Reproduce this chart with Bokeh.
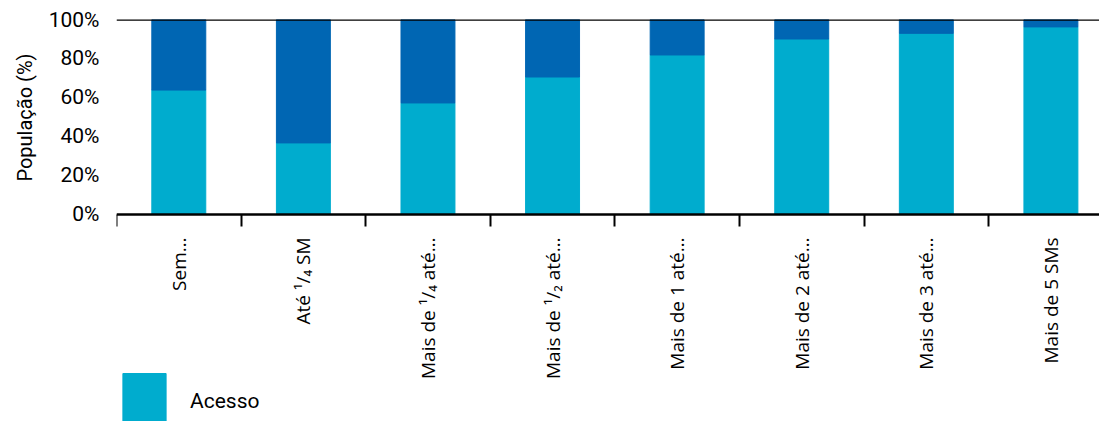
from bokeh.plotting import figure
from bokeh.models import (ColumnDataSource, Range1d, FixedTicker, Span, Legend,
                          LegendItem, Title)
from bokeh.embed import file_html
from bokeh.resources import INLINE
import math

# Income brackets (in minimum wages, SM)
categories = ["Sem…", "Até ¹/₄ SM", "Mais de ¹/₄ até…", "Mais de ¹/₂ até…",
              "Mais de 1 até…", "Mais de 2 até…", "Mais de 3 até…", "Mais de 5 SMs"]
# Share of the population (%)
acesso = [63.8, 36.7, 57.2, 70.5, 81.8, 90.0, 92.9, 96.2]
sem_acesso = [36.2, 63.3, 42.8, 29.5, 18.2, 10.0, 7.1, 3.8]
y_ticks = [0, 20, 40, 60, 80, 100]

LIGHT = "#00acce"
DARK = "#0066b3"

centers = [i + 0.5 for i in range(len(categories))]
bounds = [float(i) for i in range(len(categories) + 1)]

source = ColumnDataSource(dict(x=centers, acesso=acesso, sem_acesso=sem_acesso))

# The frame runs down to the bottom edge so that the category labels and the
# legend can sit below the zero line; 1.95 px per percentage point.
p = figure(width=1099, height=421, output_backend="svg", toolbar_location=None,
           x_range=Range1d(0, 7.89), y_range=Range1d(-106.2, 100),
           min_border_left=116, min_border_right=0, min_border_top=19,
           min_border_bottom=0)
p.outline_line_color = None
p.xgrid.visible = False
p.ygrid.visible = False

renderers = p.vbar_stack(["acesso", "sem_acesso"], x="x", width=0.433,
                         color=[LIGHT, DARK], source=source)

# line at 100%
p.add_layout(Span(location=100, dimension="width", line_color="black", line_width=2.5))

# x axis drawn at y = 0: labels at centers, tick marks at boundaries
xa = p.xaxis[0]
xa.fixed_location = 0
xa.ticker = FixedTicker(ticks=centers, minor_ticks=bounds)
xa.major_label_overrides = {c: lab for c, lab in zip(centers, categories)}
xa.major_label_orientation = math.pi / 2
xa.major_tick_out = 0
xa.major_tick_in = 0
xa.minor_tick_out = 12
xa.minor_tick_in = 0
xa.minor_tick_line_color = "black"
xa.minor_tick_line_width = 2
xa.axis_line_color = "black"
xa.axis_line_width = 2.5
xa.major_label_standoff = 11
xa.major_label_text_font = "Open Sans"
xa.major_label_text_font_size = "19px"
xa.major_label_text_color = "black"

# y axis
ya = p.yaxis[0]
ya.ticker = FixedTicker(ticks=y_ticks)
ya.major_label_overrides = {t: f"{t}%" for t in y_ticks}
ya.axis_line_color = None
ya.major_tick_line_color = None
ya.minor_tick_line_color = None
ya.major_tick_out = 0
ya.major_label_standoff = 17
ya.major_label_text_font = "Roboto"
ya.major_label_text_font_size = "21px"
ya.major_label_text_color = "black"

p.add_layout(Title(text="População (%)", align="right", offset=34, standoff=18,
                   text_font="Roboto", text_font_size="20px",
                   text_font_style="normal", text_color="black"), "left")

legend = Legend(items=[LegendItem(label="Acesso", renderers=[renderers[0]])],
                location=(1, -15), glyph_width=54, glyph_height=70,
                label_standoff=19, padding=0, margin=0, border_line_color=None,
                background_fill_alpha=0, label_text_font="Roboto",
                label_text_font_size="21px", label_text_color="black")
p.add_layout(legend, "center")

open("out.html", "w").write(file_html(p, INLINE))
